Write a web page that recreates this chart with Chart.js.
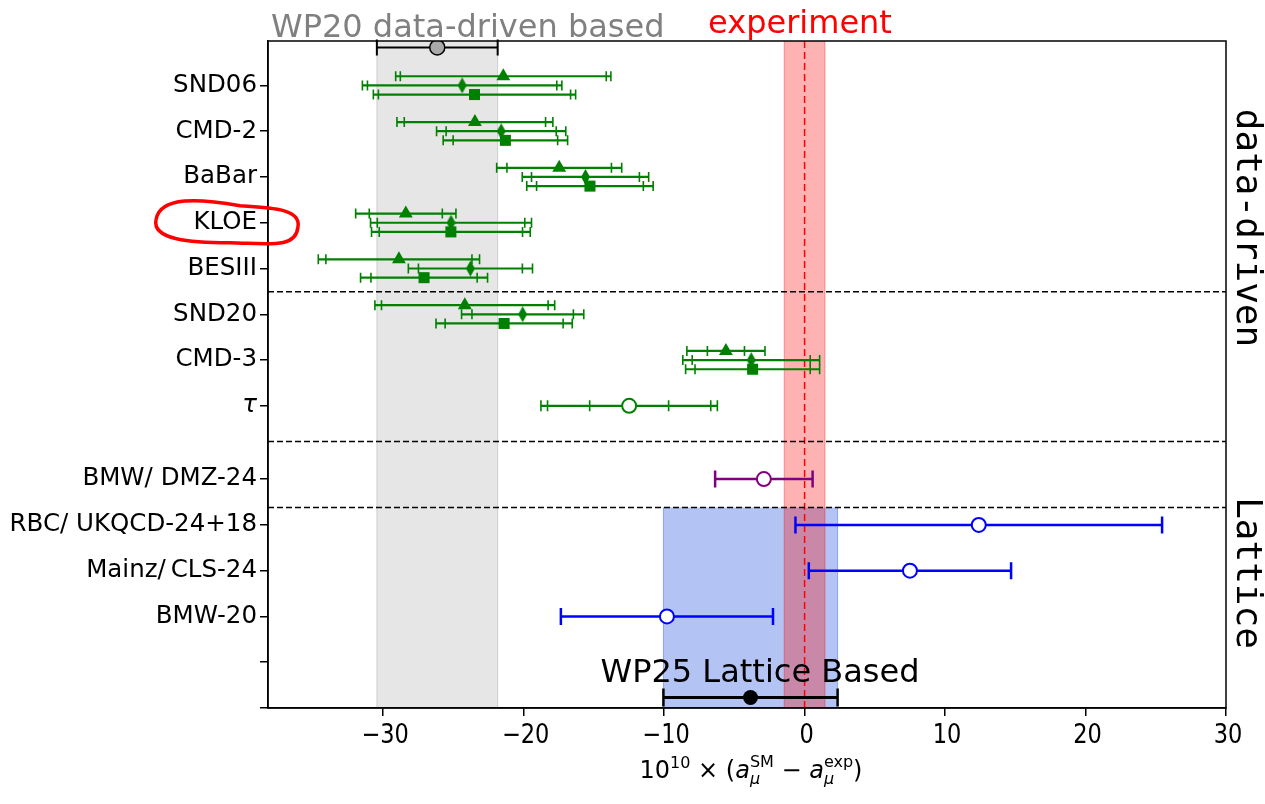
<!DOCTYPE html>
<html>
<head>
<meta charset="utf-8">
<script src="https://cdn.jsdelivr.net/npm/chart.js@4.4.0/dist/chart.umd.min.js"></script>
<style>
  html, body { margin: 0; padding: 0; background: #fff; }
  #wrap { width: 1265px; height: 804px; position: relative; }
</style>
</head>
<body>
<div id="wrap"><canvas id="c"></canvas></div>
<script>
// e+e- data-driven rows (values in 10^-10)
const ddLabels = ['SND06', 'CMD-2', 'BaBar', 'KLOE', 'BESIII', 'SND20', 'CMD-3'];
const ddRows   = [13.6, 12.6, 11.6, 10.6, 9.6, 8.6, 7.6];

// triangles (upper sub-row)
const triVal  = [-21.45, -23.47, -17.47, -28.39, -28.88, -24.19, -5.6];
const triStat = [7.33, 5.03, 3.72, 2.6, 5.2, 5.93, 1.32];
const triTot  = [7.66, 5.55, 4.45, 3.57, 5.74, 6.4, 2.78];
// thin diamonds (middle sub-row)
const diaVal  = [-24.38, -21.6, -15.6, -25.17, -23.79, -20.07, -3.8];
const diaStat = [6.74, 3.92, 3.84, 5.25, 3.7, 3.61, 4.2];
const diaTot  = [7.1, 4.6, 4.5, 5.73, 4.42, 4.35, 4.87];
// squares (lower sub-row)
const sqVal  = [-23.5, -21.3, -15.28, -25.18, -27.09, -21.39, -3.7];
const sqStat = [6.84, 3.72, 3.8, 5.1, 3.78, 4.2, 4.1];
const sqTot  = [7.2, 4.43, 4.5, 5.65, 4.52, 4.85, 4.77];

// tau based
const tauRow = 6.6;
const tauVal = -12.49;
const tauErr = [2.81, 5.81, 6.28];

// lattice
const latLabels = ['BMW/ DMZ-24', 'RBC/ UKQCD-24+18', 'Mainz/\u2009CLS-24', 'BMW-20'];
const latRows   = [5, 4, 3, 2];
const latVal    = [-2.9, 12.4, 7.5, -9.8];
const latErr    = [3.47, 13.05, 7.2, 7.55];
const latColors = ['purple', 'blue', 'blue', 'blue'];

// averages and experiment
const wp20Row = 14.43, wp20Val = -26.15, wp20Err = 4.3;
const wp25Row = 0.23,  wp25Val = -3.85,  wp25Err = 6.2;
const expVal = 0, expErr = 1.45;

const separators = [9.09, 5.82, 4.38];
const xTicks = [-30, -20, -10, 0, 10, 20, 30];
const subOffset = 0.2;
const circledLabel = 'KLOE';

const yTickVals = [0, 1].concat(latRows, [tauRow], ddRows);
const yTickText = ['', ''].concat(latLabels, ['\u03c4'], ddLabels);

const GREEN = '#008000';
const FONT = "'DejaVu Sans', 'Noto Sans', sans-serif";

// thin diamond marker (matplotlib 'd')
const thinDiamond = document.createElement('canvas');
thinDiamond.width = 9; thinDiamond.height = 16;
(function () {
    const g = thinDiamond.getContext('2d');
    g.fillStyle = GREEN;
    g.beginPath();
    g.moveTo(4.5, 0); g.lineTo(9, 8); g.lineTo(4.5, 16); g.lineTo(0, 8);
    g.closePath(); g.fill();
})();

function rowPoints(vals, rows, shift) {
    return vals.map((v, i) => ({ x: v, y: rows[i] + shift }));
}

function xLabel(v) {
    return v < 0 ? '\u2212' + Math.abs(v) : String(v);
}

// bands, separators, experiment line
const bandsPlugin = {
    id: 'bands',
    beforeDatasetsDraw(chart) {
        const { ctx, chartArea: a, scales: { x, y } } = chart;
        const band = (lo, hi, top, bot, fill, edge) => {
            const x0 = x.getPixelForValue(lo), x1 = x.getPixelForValue(hi);
            ctx.fillStyle = fill;
            ctx.fillRect(x0, top, x1 - x0, bot - top);
            ctx.strokeStyle = edge; ctx.lineWidth = 1;
            ctx.beginPath();
            ctx.moveTo(x0, top); ctx.lineTo(x0, bot);
            ctx.moveTo(x1, top); ctx.lineTo(x1, bot);
            ctx.stroke();
        };
        ctx.save();
        band(wp20Val - wp20Err, wp20Val + wp20Err, a.top, a.bottom,
             'rgba(128,128,128,0.2)', 'rgba(128,128,128,0.3)');
        band(wp25Val - wp25Err, wp25Val + wp25Err, y.getPixelForValue(separators[2]), a.bottom,
             'rgba(65,105,225,0.4)', 'rgba(65,105,225,0.5)');
        band(expVal - expErr, expVal + expErr, a.top, a.bottom,
             'rgba(255,0,0,0.3)', 'rgba(255,0,0,0.35)');

        ctx.setLineDash([7, 4]);
        ctx.strokeStyle = 'red'; ctx.lineWidth = 1.5;
        const ex = x.getPixelForValue(expVal);
        ctx.beginPath(); ctx.moveTo(ex, a.top); ctx.lineTo(ex, a.bottom); ctx.stroke();

        ctx.setLineDash([6, 3]);
        ctx.strokeStyle = '#000'; ctx.lineWidth = 1.5;
        separators.forEach(s => {
            const py = y.getPixelForValue(s);
            ctx.beginPath(); ctx.moveTo(a.left, py); ctx.lineTo(a.right, py); ctx.stroke();
        });
        ctx.restore();
    }
};

// horizontal error bars with one cap per error level
const errorBarPlugin = {
    id: 'errorBars',
    beforeDatasetsDraw(chart) {
        const ctx = chart.ctx, xs = chart.scales.x;
        chart.data.datasets.forEach((ds, di) => {
            if (!ds.errs) return;
            const meta = chart.getDatasetMeta(di);
            meta.data.forEach((pt, i) => {
                const v = ds.data[i].x;
                const levels = ds.errs.map(arr => arr[i]);
                const maxE = Math.max(...levels);
                const col = Array.isArray(ds.barColor) ? ds.barColor[i] : ds.barColor;
                ctx.save();
                ctx.strokeStyle = col;
                ctx.lineWidth = ds.barWidth;
                ctx.beginPath();
                ctx.moveTo(xs.getPixelForValue(v - maxE), pt.y);
                ctx.lineTo(xs.getPixelForValue(v + maxE), pt.y);
                ctx.stroke();
                ctx.lineWidth = ds.capWidth;
                ctx.beginPath();
                levels.forEach(e => {
                    [v - e, v + e].forEach(xv => {
                        const px = xs.getPixelForValue(xv);
                        ctx.moveTo(px, pt.y - ds.capHalf);
                        ctx.lineTo(px, pt.y + ds.capHalf);
                    });
                });
                ctx.stroke();
                ctx.restore();
            });
        });
    }
};

// frame, annotations, x tick labels, axis title
const textPlugin = {
    id: 'texts',
    afterDraw(chart) {
        const { ctx, chartArea: a } = chart;
        ctx.save();
        ctx.strokeStyle = '#000'; ctx.lineWidth = 1.5;
        ctx.strokeRect(a.left, a.top, a.right - a.left, a.bottom - a.top);

        // x tick labels (narrow look of the original)
        const xs = chart.scales.x;
        ctx.font = '26.5px ' + FONT;
        ctx.fillStyle = '#000'; ctx.textAlign = 'center'; ctx.textBaseline = 'alphabetic';
        xTicks.forEach(v => {
            ctx.save();
            ctx.translate(xs.getPixelForValue(v) + 2, 743);
            ctx.scale(0.85, 1);
            ctx.fillText(xLabel(v), 0, 0);
            ctx.restore();
        });

        ctx.font = '32px ' + FONT;
        ctx.fillStyle = 'gray'; ctx.textAlign = 'left';
        ctx.fillText('WP20 data-driven based', 271, 37);
        ctx.fillStyle = 'red'; ctx.textAlign = 'center';
        ctx.fillText('experiment', 800, 33);
        ctx.fillStyle = '#000';
        ctx.fillText('WP25 Lattice Based', 760, 682);

        ctx.font = "36px 'DejaVu Sans Mono', monospace";
        ctx.textBaseline = 'middle';
        [['data-driven', 228], ['Lattice', 573]].forEach(([t, cy]) => {
            ctx.save();
            ctx.translate(1246, cy);
            ctx.rotate(Math.PI / 2);
            ctx.fillText(t, 0, 0);
            ctx.restore();
        });

        // hand-drawn red loop around the KLOE label
        const ky = chart.scales.y.getPixelForValue(ddRows[ddLabels.indexOf(circledLabel)]);
        ctx.strokeStyle = 'red'; ctx.lineWidth = 3.5; ctx.lineCap = 'round';
        ctx.beginPath();
        ctx.moveTo(298, ky + 4);
        ctx.bezierCurveTo(301, ky - 14, 272, ky - 15, 240, ky - 17);
        ctx.bezierCurveTo(200, ky - 24, 160, ky - 27, 156, ky - 3);
        ctx.bezierCurveTo(152, ky + 17, 190, ky + 20, 230, ky + 20);
        ctx.bezierCurveTo(270, ky + 21, 296, ky + 26, 298, ky + 4);
        ctx.stroke();

        // 10^10 x (a_mu^SM - a_mu^exp)
        const big = '24px ' + FONT, small = '16px ' + FONT;
        const bigI = 'italic 24px ' + FONT, smallI = 'italic 16px ' + FONT;
        const parts = [
            { t: '10', f: big },
            { t: '10', f: small, dy: -10 },
            { t: ' \u00d7 (', f: big },
            { t: 'a', f: bigI },
            { t: '\u03bc', f: smallI, dy: 6, sup: { t: 'SM', f: small, dy: -11 } },
            { t: ' \u2212 ', f: big },
            { t: 'a', f: bigI },
            { t: '\u03bc', f: smallI, dy: 6, sup: { t: 'exp', f: small, dy: -11 } },
            { t: ')', f: big }
        ];
        ctx.fillStyle = '#000';
        ctx.textBaseline = 'alphabetic'; ctx.textAlign = 'left';
        const widthOf = p => {
            ctx.font = p.f; let w = ctx.measureText(p.t).width;
            if (p.sup) { ctx.font = p.sup.f; w = Math.max(w, ctx.measureText(p.sup.t).width); }
            return w;
        };
        const total = parts.reduce((s, p) => s + widthOf(p), 0);
        let px = 751 - total / 2;
        const base = 778;
        parts.forEach(p => {
            const w = widthOf(p);
            ctx.font = p.f; ctx.fillText(p.t, px, base + (p.dy || 0));
            if (p.sup) { ctx.font = p.sup.f; ctx.fillText(p.sup.t, px, base + p.sup.dy); }
            px += w;
        });
        ctx.restore();
    }
};

const ctx = document.getElementById('c').getContext('2d');
new Chart(ctx, {
    type: 'scatter',
    data: {
        datasets: [
            {
                label: 'triangle', data: rowPoints(triVal, ddRows, subOffset),
                pointStyle: 'triangle', pointRadius: 8, backgroundColor: GREEN, borderColor: GREEN, borderWidth: 0,
                errs: [triStat, triTot], barColor: GREEN, barWidth: 2.2, capWidth: 1.6, capHalf: 5
            },
            {
                label: 'diamond', data: rowPoints(diaVal, ddRows, 0),
                pointStyle: thinDiamond, pointRadius: 8,
                errs: [diaStat, diaTot], barColor: GREEN, barWidth: 2.2, capWidth: 1.6, capHalf: 5
            },
            {
                label: 'square', data: rowPoints(sqVal, ddRows, -subOffset),
                pointStyle: 'rect', pointRadius: 7.8, backgroundColor: GREEN, borderColor: GREEN, borderWidth: 0,
                errs: [sqStat, sqTot], barColor: GREEN, barWidth: 2.2, capWidth: 1.6, capHalf: 5
            },
            {
                label: 'tau', data: [{ x: tauVal, y: tauRow }],
                pointStyle: 'circle', pointRadius: 7, backgroundColor: '#fff', borderColor: GREEN, borderWidth: 2,
                errs: tauErr.map(e => [e]), barColor: GREEN, barWidth: 2.2, capWidth: 1.6, capHalf: 5.5
            },
            {
                label: 'lattice', data: rowPoints(latVal, latRows, 0),
                pointStyle: 'circle', pointRadius: 7, backgroundColor: '#fff', borderColor: latColors, borderWidth: 2,
                errs: [latErr], barColor: latColors, barWidth: 2.5, capWidth: 2.5, capHalf: 8.5
            },
            {
                label: 'WP20', data: [{ x: wp20Val, y: wp20Row }],
                pointStyle: 'circle', pointRadius: 7.5, backgroundColor: 'darkgray', borderColor: '#000', borderWidth: 1.5,
                errs: [[wp20Err]], barColor: '#000', barWidth: 2, capWidth: 2, capHalf: 8
            },
            {
                label: 'WP25', data: [{ x: wp25Val, y: wp25Row }],
                pointStyle: 'circle', pointRadius: 7.5, backgroundColor: '#000', borderColor: '#000', borderWidth: 0,
                errs: [[wp25Err]], barColor: '#000', barWidth: 3, capWidth: 2.5, capHalf: 9
            }
        ]
    },
    options: {
        responsive: true,
        maintainAspectRatio: false,
        animation: false,
        layout: { padding: { top: 41, right: 39, left: 0, bottom: 0 } },
        plugins: { legend: { display: false }, tooltip: { enabled: false } },
        scales: {
            x: {
                type: 'linear', min: -38.2, max: 30,
                afterBuildTicks: s => { s.ticks = xTicks.map(v => ({ value: v })); },
                afterFit: s => { s.height = 96; },
                grid: { drawOnChartArea: false, drawTicks: true, tickLength: 8, color: '#000', lineWidth: 1.5 },
                border: { display: true, color: '#000', width: 1.5 },
                ticks: { display: false }
            },
            y: {
                type: 'linear', min: 0, max: 14.57,
                afterBuildTicks: s => { s.ticks = yTickVals.map(v => ({ value: v })); },
                afterFit: s => { s.width = 268; },
                grid: { drawOnChartArea: false, drawTicks: true, tickLength: 8, color: '#000', lineWidth: 1.5 },
                border: { display: true, color: '#000', width: 1.5 },
                ticks: {
                    color: '#000', padding: 3, autoSkip: false,
                    font: c => ({ family: FONT, size: 24.5, style: (c.tick && c.tick.value === tauRow) ? 'italic' : 'normal' }),
                    callback: v => {
                        const k = yTickVals.findIndex(t => Math.abs(t - v) < 1e-6);
                        return k < 0 ? '' : yTickText[k];
                    }
                }
            }
        }
    },
    plugins: [bandsPlugin, errorBarPlugin, textPlugin]
});
</script>
</body>
</html>
